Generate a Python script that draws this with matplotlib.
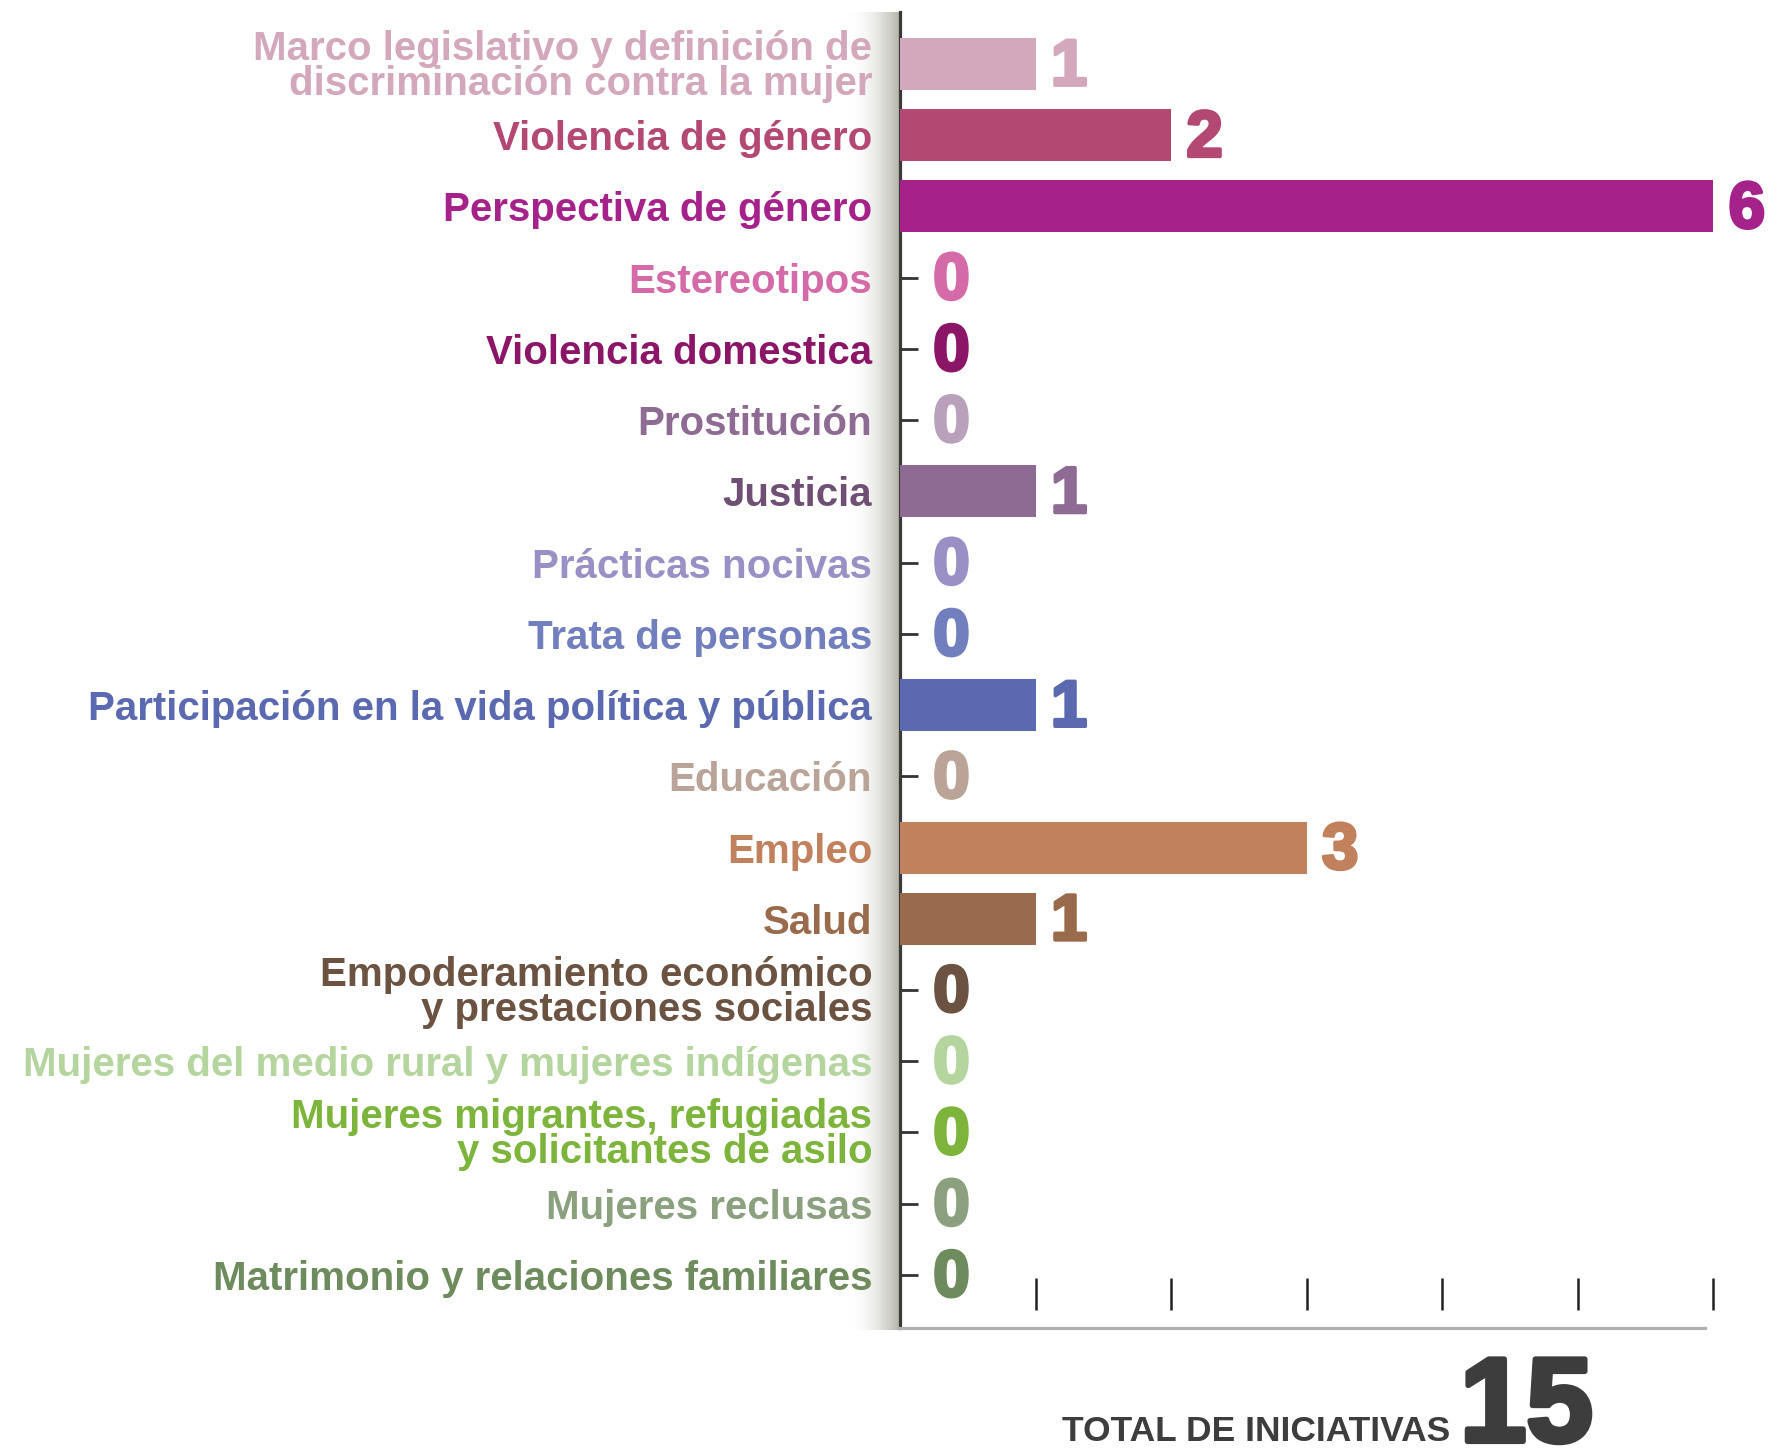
import matplotlib.pyplot as plt
import matplotlib.patheffects as pe
import numpy as np

# Datos
categorias = [
    'Marco legislativo y definición de\ndiscriminación contra la mujer',
    'Violencia de género',
    'Perspectiva de género',
    'Estereotipos',
    'Violencia domestica',
    'Prostitución',
    'Justicia',
    'Prácticas nocivas',
    'Trata de personas',
    'Participación en la vida política y pública',
    'Educación',
    'Empleo',
    'Salud',
    'Empoderamiento económico\ny prestaciones sociales',
    'Mujeres del medio rural y mujeres indígenas',
    'Mujeres migrantes, refugiadas\ny solicitantes de asilo',
    'Mujeres reclusas',
    'Matrimonio y relaciones familiares',
]
valores = [1, 2, 6, 0, 0, 0, 1, 0, 0, 1, 0, 3, 1, 0, 0, 0, 0, 0]
colores = ['#d4a8bc', '#b34873', '#a5228b', '#d46ba8', '#8b1667', '#b9a0bb',
           '#8e6b92', '#9b90c6', '#717fbf', '#5a69b0', '#b9a497', '#c0815c',
           '#9a6a4c', '#6c5241', '#b5d59e', '#7db43c', '#8aa07f', '#6d8b5c']
colores_texto = ['#d4a8bc', '#b34873', '#a5228b', '#d46ba8', '#8b1667', '#8e6b92',
                 '#6f5074', '#9b90c6', '#717fbf', '#5a69b0', '#b9a497', '#c0815c',
                 '#9a6a4c', '#6c5241', '#b5d59e', '#7db43c', '#8aa07f', '#6d8b5c']
marcas_x = [1, 2, 3, 4, 5, 6]
total = sum(valores)

plt.rcParams['font.family'] = ['Liberation Sans', 'DejaVu Sans']

fig = plt.figure(figsize=(17.69, 14.5), dpi=100)

# Sombra degradada junto al eje
ax_sombra = fig.add_axes([848 / 1769, 1 - 1330 / 1450, 52 / 1769, 1318 / 1450])
t = np.linspace(0, 1, 200) ** 2.0
blanco = np.array([1.0, 1.0, 1.0])
gris = np.array([0.70, 0.70, 0.66])
grad = blanco[None, :] * (1 - t[:, None]) + gris[None, :] * t[:, None]
ax_sombra.imshow(grad[None, :, :], aspect='auto', extent=(0, 1, 0, 1))
ax_sombra.axis('off')

ax = fig.add_axes([900 / 1769, 1 - 1328 / 1450, 1 - 900 / 1769, 1316 / 1450])
ax.patch.set_alpha(0)

y = np.arange(len(categorias))
ax.barh(y, valores, height=0.73, color=colores, zorder=3)

for i, v in enumerate(valores):
    off = 11 if v > 0 else 24
    ax.annotate(str(v), xy=(v, i), xytext=(off, -3), textcoords='offset points',
                va='center', ha='left', fontsize=47, fontweight='bold',
                color=colores[i], annotation_clip=False,
                path_effects=[pe.withStroke(linewidth=2.5, foreground=colores[i])])

ax.set_ylim(17.745, -0.73)
ax.set_xlim(0, 6.41)

ax.set_yticks(y)
ax.set_yticklabels(categorias, fontsize=29, fontweight='bold', linespacing=0.9)
for lab, c in zip(ax.get_yticklabels(), colores_texto):
    lab.set_color(c)
ax.tick_params(axis='y', direction='in', length=13, width=2, color='#333333', pad=20)
ax.set_xticks([])

# Marcas verticales del eje x
ax.vlines(marcas_x, 0.0137, 0.038, transform=ax.get_xaxis_transform(),
          color='#222222', linewidth=1.8)

ax.spines['top'].set_visible(False)
ax.spines['right'].set_visible(False)
ax.spines['left'].set_linewidth(2.3)
ax.spines['left'].set_color('#3a3a3a')
ax.spines['bottom'].set_linewidth(2.3)
ax.spines['bottom'].set_color('#b0b0b0')
ax.spines['bottom'].set_bounds(0, 5.94)

fig.text(1450 / 1769, 0.006, 'TOTAL DE INICIATIVAS', ha='right', va='baseline',
         fontsize=25.5, fontweight='bold', color='#3d3d3d')
fig.text(1460 / 1769, 0.006, str(total), ha='left', va='baseline',
         fontsize=86, fontweight='bold', color='#3d3d3d',
         path_effects=[pe.withStroke(linewidth=4, foreground='#3d3d3d')])

plt.savefig('out.png', dpi=100)
